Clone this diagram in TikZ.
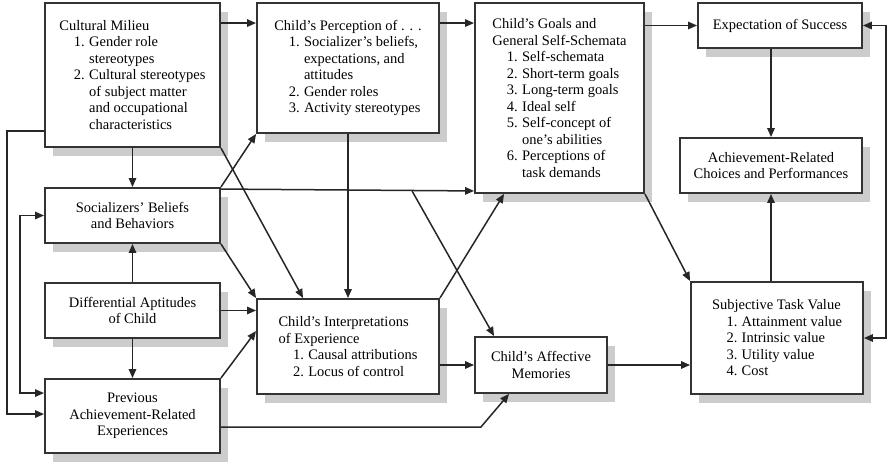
\documentclass[tikz,border=0pt]{standalone}
\usepackage{fontspec}
\setmainfont{Liberation Serif}
\usetikzlibrary{arrows.meta, shadows}

\newcommand{\butir}[2]{\hspace*{1em}\makebox[1.05em][l]{#1}#2}
\newcommand{\lanjut}[1]{\hspace*{2.05em}#1}

\begin{document}
\begin{tikzpicture}[
    x=1pt, y=-1pt,
    font=\fontsize{14.5}{16.5}\selectfont,
    kotak/.style={draw=black!80, line width=1.9pt, fill=white, inner sep=0pt,
                  drop shadow={shadow xshift=8pt, shadow yshift=-9pt, fill=black!20, opacity=1}},
    daftar/.style={kotak, align=left},
    tengah/.style={kotak, align=center},
    panah/.style={-{Triangle[length=9pt, width=7.5pt]}, line width=1.5pt, draw=black!85},
    duaarah/.style={{Triangle[length=9pt, width=7.5pt]}-{Triangle[length=9pt, width=7.5pt]},
                    line width=1.5pt, draw=black!85}
  ]
    \useasboundingbox (0,0) rectangle (888,462);

    % left column
    \node[daftar, minimum width=175pt, minimum height=144pt] (milieu) at (132.5,75)
      {Cultural Milieu\\ \butir{1.}{Gender role}\\ \lanjut{stereotypes}\\
       \butir{2.}{Cultural stereotypes}\\ \lanjut{of subject matter}\\
       \lanjut{and occupational}\\ \lanjut{characteristics}};
    \node[tengah, minimum width=175pt, minimum height=55pt] (social) at (132.5,215.5)
      {Socializers' Beliefs\\ and Behaviors};
    \node[tengah, minimum width=175pt, minimum height=55pt] (aptitude) at (132.5,310.5)
      {Differential Aptitudes\\ of Child};
    \node[tengah, minimum width=175pt, minimum height=74pt] (prior) at (132.5,416)
      {Previous\\ Achievement-Related\\ Experiences};

    % second column
    \node[daftar, minimum width=182pt, minimum height=130pt] (percep) at (348,68)
      {Child's Perception of . . .\\ \butir{1.}{Socializer's beliefs,}\\
       \lanjut{expectations, and}\\ \lanjut{attitudes}\\
       \butir{2.}{Gender roles}\\ \butir{3.}{Activity stereotypes}};
    \node[daftar, minimum width=182pt, minimum height=95pt] (interp) at (348,346.5)
      {Child's Interpretations\\ of Experience\\
       \butir{1.}{Causal attributions}\\ \butir{2.}{Locus of control}};

    % third column
    \node[daftar, minimum width=169pt, minimum height=190pt] (goals) at (559.5,98)
      {Child's Goals and\\ General Self-Schemata\\
       \butir{1.}{Self-schemata}\\ \butir{2.}{Short-term goals}\\
       \butir{3.}{Long-term goals}\\ \butir{4.}{Ideal self}\\
       \butir{5.}{Self-concept of}\\ \lanjut{one's abilities}\\
       \butir{6.}{Perceptions of}\\ \lanjut{task demands}};
    \node[tengah, minimum width=132pt, minimum height=56pt] (affect) at (541,365)
      {Child's Affective\\ Memories};

    % right column
    \node[tengah, minimum width=164pt, minimum height=45pt] (expect) at (780,25.5)
      {Expectation of Success};
    \node[tengah, minimum width=182pt, minimum height=55pt] (choice) at (771,165.5)
      {Achievement-Related\\ Choices and Performances};
    \node[daftar, minimum width=172pt, minimum height=112pt] (value) at (777,338)
      {Subjective Task Value\\ \butir{1.}{Attainment value}\\
       \butir{2.}{Intrinsic value}\\ \butir{3.}{Utility value}\\ \butir{4.}{Cost}};

    % connectors
    \draw[panah] ([yshift=-21pt]milieu.north east) -- ([yshift=-21pt]percep.north west);
    \draw[panah] ([yshift=-21pt]percep.north east) -- ([yshift=-21pt]goals.north west);
    \draw[panah] (goals.east |- expect.west) -- (expect.west);
    \draw[panah] (choice.north |- expect.south) -- (choice.north);
    \draw[panah] (choice.south |- value.north) -- (choice.south);
    \draw[duaarah] (expect.east) -- ++(23,0) |- (value.east);

    \draw[panah] ([yshift=17pt]milieu.south west) -- ++(-37,0) |- ([yshift=-36pt]prior.north west);
    \draw[duaarah] (social.west) -- ++(-24,0) |- ([yshift=-15pt]prior.north west);
    \draw[panah] (milieu.south) -- (social.north);
    \draw[panah] (aptitude.north) -- (social.south);
    \draw[panah] (aptitude.south) -- (prior.north);
    \draw[panah] (aptitude.east) -- (aptitude.east -| interp.west);

    \draw[panah] (milieu.south east) -- ([xshift=47pt]interp.north west);
    \draw[panah] (social.north east) -- (percep.south west);
    \draw[panah] ([yshift=-2pt]social.north east) -- ([yshift=3pt]goals.south west);
    \coordinate (cabang) at ([xshift=-62pt, yshift=3pt]goals.south west);
    \draw[panah] (cabang) -- ([xshift=20pt]affect.north west);
    \draw[panah] (social.south east) -- (interp.north west);
    \draw[panah] (percep.south) -- (percep.south |- interp.north);
    \draw[panah] (prior.north east) -- ([yshift=-33pt]interp.north west);
    \draw[panah] ([yshift=-11pt]prior.east) -- ++(260,0) -- ([xshift=35pt]affect.south west);

    \draw[panah] (interp.north east) -- ([xshift=30pt]goals.south west);
    \draw[panah] (goals.south east) -- (value.north west);
    \draw[panah] (interp.east |- affect.west) -- (affect.west);
    \draw[panah] (affect.east) -- (affect.east -| value.west);
  \end{tikzpicture}
\end{document}
